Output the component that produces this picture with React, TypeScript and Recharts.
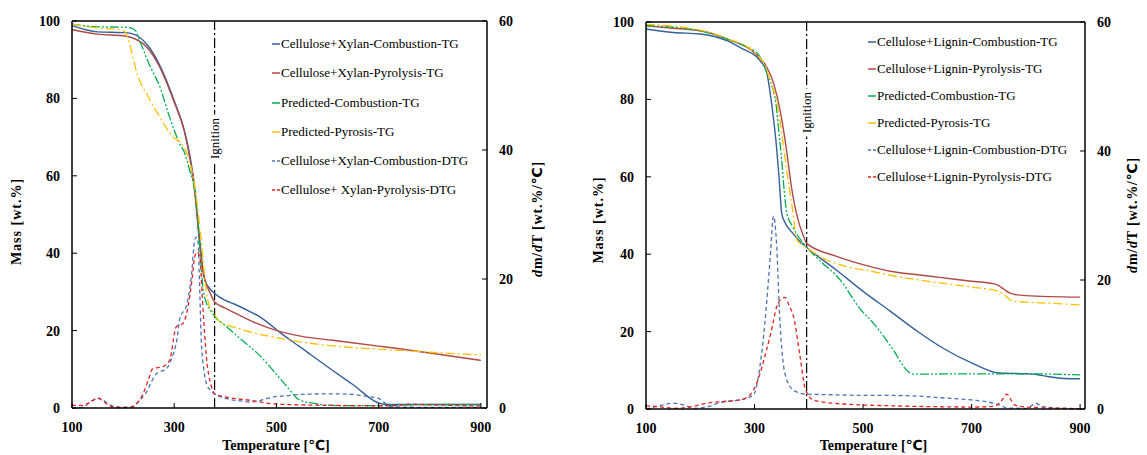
import React from 'react';
import { LineChart, Line, XAxis, YAxis, ReferenceLine, Legend } from 'recharts';

// ---------- shared axis ticks ----------
const tempTicks = [100, 300, 500, 700, 900];
const massTicks = [0, 20, 40, 60, 80, 100];
const dtgTicks = [0, 20, 40, 60];

// ---------- Panel A: Cellulose + Xylan ----------
const cxLabels = [
  'Cellulose+Xylan-Combustion-TG',
  'Cellulose+Xylan-Pyrolysis-TG',
  'Predicted-Combustion-TG',
  'Predicted-Pyrosis-TG',
  'Cellulose+Xylan-Combustion-DTG',
  'Cellulose+ Xylan-Pyrolysis-DTG',
];
const cxIgnition = 379;

const cxCombTgT = [100, 150, 200, 215, 230, 250, 270, 300, 320, 330, 340, 345, 350, 355, 360, 370, 379, 400, 415, 450, 467, 480, 506, 546, 610, 650, 702, 720, 800, 900];
const cxCombTgV = [98.8, 97.2, 97.0, 96.8, 96.0, 93.4, 89.0, 79.4, 71.6, 65.7, 57.0, 50.0, 43.3, 37.0, 33.0, 30.8, 29.6, 27.8, 27.0, 24.8, 23.6, 22.4, 19.6, 15.8, 9.7, 6.0, 1.2, 0.9, 0.9, 0.9];

const cxPyroTgT = [100, 150, 200, 215, 250, 270, 300, 320, 330, 340, 350, 356, 363, 370, 379, 400, 415, 450, 506, 550, 610, 700, 741, 800, 900];
const cxPyroTgV = [97.8, 96.6, 96.2, 95.8, 92.7, 88.5, 79.0, 71.4, 64.9, 56.0, 42.0, 35.5, 32.0, 29.8, 27.4, 25.8, 24.8, 22.5, 19.8, 18.5, 17.5, 16.0, 15.3, 14.2, 12.3];

const cxPredCombT = [100, 150, 200, 215, 225, 232, 240, 245, 255, 272, 290, 298, 310, 320, 330, 340, 345, 350, 356, 362, 370, 379, 400, 430, 467, 500, 520, 546, 578, 620, 700, 800, 900];
const cxPredCombV = [99.2, 98.5, 98.4, 98.2, 97.4, 95.0, 92.5, 90.7, 87.7, 83.0, 75.5, 72.5, 68.5, 66.0, 61.5, 56.0, 50.0, 41.5, 31.3, 27.5, 25.5, 23.7, 21.3, 17.8, 13.6, 8.7, 5.6, 2.0, 1.1, 0.6, 0.6, 0.9, 0.9];

const cxPredPyroT = [100, 150, 190, 200, 206, 212, 219, 226, 232, 240, 246, 260, 272, 285, 298, 311, 320, 327, 337, 344, 349, 353, 358, 363, 368, 376, 389, 400, 428, 450, 500, 546, 600, 700, 741, 800, 900];
const cxPredPyroV = [99.2, 98.2, 97.8, 97.5, 96.7, 94.5, 90.7, 87.0, 84.7, 82.5, 81.2, 77.8, 75.2, 72.3, 70.0, 68.7, 67.2, 64.9, 59.7, 53.7, 48.0, 43.3, 36.0, 30.0, 26.6, 24.8, 22.3, 21.6, 20.5, 19.6, 18.2, 17.1, 16.2, 15.2, 14.9, 14.4, 13.7];

const cxCombDtgT = [100, 120, 140, 154, 165, 180, 193, 219, 230, 246, 255, 265, 285, 295, 305, 311, 324, 334, 340, 343, 347, 349, 353, 358, 363, 370, 379, 402, 430, 448, 470, 493, 520, 546, 610, 650, 676, 700, 712, 725, 800, 900];
const cxCombDtgV = [0, 0.1, 1.2, 1.5, 1.0, 0.3, 0.15, 0.15, 1.0, 2.5, 4.0, 5.3, 6.1, 7.7, 10.5, 13.9, 15.9, 20.8, 26.0, 26.5, 25.5, 20.8, 10.5, 6.0, 3.8, 2.8, 2.2, 1.45, 1.1, 0.93, 1.2, 1.7, 1.9, 2.1, 2.2, 2.1, 1.8, 1.5, 0.8, 0.2, 0.1, 0.1];

const cxPyroDtgT = [100, 120, 140, 150, 160, 175, 200, 219, 230, 239, 250, 258, 278, 291, 304, 317, 327, 335, 340, 345, 350, 356, 363, 373, 379, 402, 448, 500, 610, 700, 741, 760, 800, 900];
const cxPyroDtgV = [0.4, 0.4, 1.1, 1.55, 1.1, 0.3, 0.05, 0.25, 1.0, 2.2, 4.5, 6.1, 6.4, 7.4, 12.6, 13.1, 15.7, 20.0, 23.4, 24.2, 23.4, 15.7, 7.9, 3.3, 2.2, 1.7, 1.2, 0.6, 0.4, 0.35, 0.4, 0.6, 0.5, 0.3];

// ---------- Panel B: Cellulose + Lignin ----------
const clLabels = [
  'Cellulose+Lignin-Combustion-TG',
  'Cellulose+Lignin-Pyrolysis-TG',
  'Predicted-Combustion-TG',
  'Predicted-Pyrosis-TG',
  'Cellulose+Lignin-Combustion-DTG',
  'Cellulose+Lignin-Pyrolysis-DTG',
];
const clIgnition = 396;

const clCombTgT = [100, 150, 200, 250, 280, 304, 310, 322, 330, 335, 340, 345, 350, 355, 360, 370, 380, 390, 400, 450, 500, 550, 600, 650, 700, 750, 800, 820, 840, 870, 900];
const clCombTgV = [98.2, 97.3, 96.9, 95.1, 92.9, 91.0, 90.0, 87.2, 80.5, 75.0, 68.5, 60.2, 50.7, 48.5, 47.2, 45.5, 43.8, 42.5, 41.3, 36.0, 30.4, 25.3, 20.1, 15.5, 11.9, 9.3, 9.1, 8.9, 8.4, 7.9, 7.8];

const clPyroTgT = [100, 150, 190, 220, 250, 304, 322, 335, 347, 359, 368, 380, 390, 396, 450, 519, 550, 600, 642, 700, 740, 750, 760, 770, 780, 800, 900];
const clPyroTgV = [99.0, 98.4, 97.9, 97.1, 95.6, 91.5, 88.5, 84.2, 77.3, 66.9, 57.4, 49.0, 44.8, 42.8, 39.5, 36.6, 35.6, 34.7, 34.0, 33.0, 32.4, 31.9, 30.9, 30.0, 29.6, 29.3, 28.9];

const clPredCombT = [100, 200, 250, 300, 305, 312, 320, 330, 340, 345, 350, 355, 360, 370, 380, 390, 400, 420, 457, 495, 520, 556, 580, 593, 700, 800, 900];
const clPredCombV = [99.1, 97.7, 95.5, 92.5, 92.0, 90.5, 87.8, 84.3, 78.3, 71.4, 64.5, 55.9, 50.3, 47.2, 44.7, 42.9, 41.2, 38.4, 33.5, 25.8, 22.0, 15.2, 10.1, 9.0, 9.1, 9.1, 8.8];

const clPredPyroT = [100, 200, 250, 300, 320, 330, 340, 350, 360, 370, 378, 390, 400, 433, 470, 519, 560, 600, 642, 700, 750, 760, 770, 780, 800, 850, 900];
const clPredPyroV = [99.4, 97.9, 95.7, 92.1, 88.6, 84.3, 80.0, 71.4, 61.0, 51.6, 43.7, 42.3, 41.3, 38.5, 36.8, 35.5, 34.3, 33.4, 32.6, 31.5, 30.4, 29.6, 28.3, 27.8, 27.6, 27.3, 26.9];

const clCombDtgT = [100, 130, 150, 170, 191, 210, 242, 273, 298, 310, 319, 329, 335, 340, 347, 356, 372, 396, 450, 500, 550, 600, 642, 700, 740, 755, 765, 800, 812, 818, 830, 850, 900];
const clCombDtgV = [0, 0.6, 0.9, 0.6, 0.1, 0.3, 1.1, 1.4, 2.2, 6.6, 13.3, 23.6, 29.9, 26.5, 13.3, 5.5, 2.9, 2.3, 2.2, 2.1, 2.1, 2.0, 1.75, 1.4, 0.9, 0.5, 0.15, 0.1, 0.6, 0.9, 0.4, 0.2, 0.05];

const clPyroDtgT = [100, 130, 150, 180, 212, 255, 273, 292, 304, 322, 332, 341, 348, 356, 364, 372, 384, 393, 408, 458, 550, 642, 700, 740, 750, 758, 765, 772, 780, 800, 900];
const clPyroDtgV = [0.5, 0.3, 0.1, 0.3, 0.9, 1.25, 1.4, 2.2, 4.0, 9.1, 12.5, 15.9, 17.0, 17.3, 16.0, 14.3, 8.1, 3.3, 1.4, 0.8, 0.5, 0.35, 0.3, 0.4, 0.8, 1.6, 2.3, 1.5, 0.6, 0.3, 0.05];

// ---------- styling ----------
const SERIF = '"Liberation Serif", "Times New Roman", serif';
const CELSIUS_FONT = '"DejaVu Sans", "Liberation Sans", sans-serif';
const COLORS = ['#35609a', '#b04a48', '#00b050', '#ffc000', '#4a73b5', '#e52222'];
const DASHES = [undefined, undefined, '9 2 2 2 2 2', '9 3 2 3', '4 3', '4 3'];
const SWATCH_DASH = [undefined, undefined, undefined, undefined, '3 2', '3 2'];

const toData = (t: number[], v: number[]) => t.map((x, i) => ({ t: x, v: v[i] }));

const tickStyle = { fill: '#000', fontFamily: SERIF, fontWeight: 700, fontSize: 14 };

const MassLabel = ({ cx, cy }: any) => (
  <text x={cx} y={cy} transform={`rotate(-90 ${cx} ${cy})`} textAnchor="middle" dominantBaseline="central"
    fontFamily={SERIF} fontWeight={700} fontSize={14} letterSpacing={1} fill="#000">
    Mass [wt.%]
  </text>
);

const DtgLabel = ({ cx, cy }: any) => (
  <text x={cx} y={cy} transform={`rotate(-90 ${cx} ${cy})`} textAnchor="middle" dominantBaseline="central"
    fontFamily={SERIF} fontWeight={700} fontSize={14} letterSpacing={0.8} fill="#000">
    <tspan fontStyle="italic">d</tspan>
    <tspan>m/</tspan>
    <tspan fontStyle="italic">d</tspan>
    <tspan>T [wt.%/</tspan>
    <tspan fontFamily={CELSIUS_FONT}>℃</tspan>
    <tspan>]</tspan>
  </text>
);

const TempLabel = ({ cx, cy }: any) => (
  <text x={cx} y={cy} textAnchor="middle" dominantBaseline="central"
    fontFamily={SERIF} fontWeight={700} fontSize={14} fill="#000">
    <tspan>Temperature [</tspan>
    <tspan fontFamily={CELSIUS_FONT}>℃</tspan>
    <tspan>]</tspan>
  </text>
);

const IgnitionLabel = (props: any) => {
  const { viewBox, cy } = props;
  const x = viewBox ? viewBox.x : 0;
  return (
    <g>
      <rect x={x - 8} y={cy - 24} width={16} height={48} fill="#fff" />
      <text x={x} y={cy} transform={`rotate(-90 ${x} ${cy})`} textAnchor="middle" dominantBaseline="central"
        fontFamily={SERIF} fontSize={13} fill="#000">
        Ignition
      </text>
    </g>
  );
};

const makeLegend = (labels: string[], rowH: number) => () => (
  <div style={{ fontFamily: SERIF, fontSize: 13, color: '#000' }}>
    {labels.map((name, i) => (
      <div key={name} style={{ height: rowH, display: 'flex', alignItems: 'center', whiteSpace: 'nowrap' }}>
        <svg width={8} height={4} style={{ marginRight: 1 }}>
          <line x1={0} y1={2} x2={8} y2={2} stroke={COLORS[i]} strokeWidth={1.5} strokeDasharray={SWATCH_DASH[i]} />
        </svg>
        <span>{name}</span>
      </div>
    ))}
  </div>
);

type PanelProps = {
  left: number;
  width: number;
  top: number;
  yLeftW: number;
  yRightW: number;
  xAxisH: number;
  xMax: number;
  ignition: number;
  ignitionY: number;
  series: { t: number[]; v: number[] }[];
  labels: string[];
  legendLeft: number;
  legendTop: number;
  legendRow: number;
  massLabel: [number, number];
  dtgLabel: [number, number];
  tempLabel: [number, number];
};

const Panel = (p: PanelProps) => (
  <div style={{ position: 'absolute', left: p.left, top: 0 }}>
    <LineChart width={p.width} height={455} margin={{ top: p.top, right: 0, bottom: 0, left: 0 }}>
      <XAxis
        xAxisId="x"
        type="number"
        dataKey="t"
        domain={[100, p.xMax]}
        ticks={tempTicks}
        interval={0}
        height={p.xAxisH}
        tick={tickStyle}
        tickSize={-5}
        tickMargin={19}
        axisLine={{ stroke: '#000', strokeWidth: 1.5 }}
        tickLine={{ stroke: '#000', strokeWidth: 1 }}
        label={<TempLabel cx={p.tempLabel[0]} cy={p.tempLabel[1]} />}
      />
      <YAxis
        yAxisId="m"
        orientation="left"
        domain={[0, 100]}
        ticks={massTicks}
        interval={0}
        width={p.yLeftW}
        tick={tickStyle}
        tickSize={-5}
        tickMargin={17}
        axisLine={{ stroke: '#000', strokeWidth: 1.5 }}
        tickLine={{ stroke: '#000', strokeWidth: 1 }}
        label={<MassLabel cx={p.massLabel[0]} cy={p.massLabel[1]} />}
      />
      <YAxis
        yAxisId="d"
        orientation="right"
        domain={[0, 60]}
        ticks={dtgTicks}
        interval={0}
        width={p.yRightW}
        tick={{ ...tickStyle, textAnchor: 'start' }}
        tickSize={-5}
        tickMargin={17}
        axisLine={{ stroke: '#000', strokeWidth: 1.5 }}
        tickLine={{ stroke: '#000', strokeWidth: 1 }}
        label={<DtgLabel cx={p.dtgLabel[0]} cy={p.dtgLabel[1]} />}
      />
      <ReferenceLine xAxisId="x" yAxisId="m" y={100} stroke="#000" strokeWidth={1.5} />
      <ReferenceLine
        xAxisId="x"
        yAxisId="m"
        x={p.ignition}
        stroke="#000"
        strokeWidth={1.2}
        strokeDasharray="10 3 2 3"
        label={<IgnitionLabel cy={p.ignitionY} />}
      />
      {p.series.map((s, i) => (
        <Line
          key={p.labels[i]}
          xAxisId="x"
          yAxisId={i < 4 ? 'm' : 'd'}
          data={toData(s.t, s.v)}
          dataKey="v"
          name={p.labels[i]}
          type="monotone"
          stroke={COLORS[i]}
          strokeWidth={i < 2 ? 1.4 : 1.3}
          strokeDasharray={DASHES[i]}
          dot={false}
          activeDot={false}
          isAnimationActive={false}
        />
      ))}
      <Legend
        layout="vertical"
        align="center"
        verticalAlign="middle"
        content={makeLegend(p.labels, p.legendRow)}
        wrapperStyle={{ left: p.legendLeft, top: p.legendTop, width: 280, height: p.legendRow * 6 }}
      />
    </LineChart>
  </div>
);

export default function App() {
  return (
    <div style={{ position: 'absolute', left: 0, top: 0, width: 1147, height: 455, background: '#fff', overflow: 'hidden' }}>
      <Panel
        left={0}
        width={580}
        top={21}
        yLeftW={72}
        yRightW={93}
        xAxisH={47}
        xMax={912}
        ignition={cxIgnition}
        ignitionY={138.5}
        series={[
          { t: cxCombTgT, v: cxCombTgV },
          { t: cxPyroTgT, v: cxPyroTgV },
          { t: cxPredCombT, v: cxPredCombV },
          { t: cxPredPyroT, v: cxPredPyroV },
          { t: cxCombDtgT, v: cxCombDtgV },
          { t: cxPyroDtgT, v: cxPyroDtgV },
        ]}
        labels={cxLabels}
        legendLeft={272}
        legendTop={29.8}
        legendRow={29.1}
        massLabel={[16, 221.5]}
        dtgLabel={[536.7, 219]}
        tempLabel={[276, 444.5]}
      />
      <Panel
        left={580}
        width={567}
        top={22}
        yLeftW={66}
        yRightW={62}
        xAxisH={46}
        xMax={909}
        ignition={clIgnition}
        ignitionY={112.5}
        series={[
          { t: clCombTgT, v: clCombTgV },
          { t: clPyroTgT, v: clPyroTgV },
          { t: clPredCombT, v: clPredCombV },
          { t: clPredPyroT, v: clPredPyroV },
          { t: clCombDtgT, v: clCombDtgV },
          { t: clPyroDtgT, v: clPyroDtgV },
        ]}
        labels={clLabels}
        legendLeft={288}
        legendTop={28.2}
        legendRow={27}
        massLabel={[18, 220]}
        dtgLabel={[551.7, 215]}
        tempLabel={[293.5, 444.5]}
      />
    </div>
  );
}
